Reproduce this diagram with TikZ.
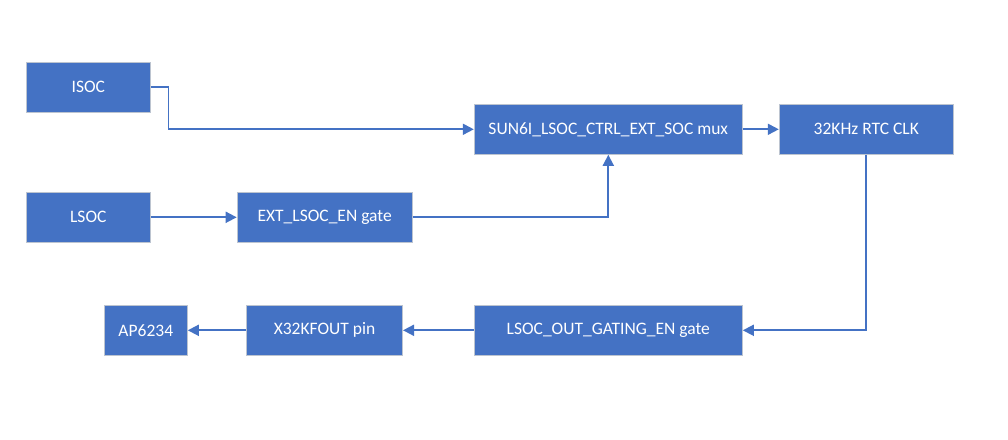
\documentclass[tikz,border=0pt]{standalone}
\usepackage{fontspec}
\setmainfont{Carlito}
\usetikzlibrary{arrows.meta}
\definecolor{boxblue}{HTML}{4472C4}
\definecolor{boxedge}{HTML}{BCC4D0}
\begin{document}
\begin{tikzpicture}[x=1pt,y=-1pt,
  blk/.style={draw=boxedge,line width=1pt,fill=boxblue,text=white,font=\fontsize{17.5}{20}\selectfont,inner sep=0pt},
  conn/.style={draw=boxblue,line width=1.8pt,-{Triangle[length=11pt,width=11pt]}}]
\useasboundingbox (0,0) rectangle (1008,439);
\fill[white] (0,0) rectangle (1008,439);
\node[blk,minimum width=124pt,minimum height=50pt] (isoc) at (88.3,87.3) {ISOC};
\node[blk,minimum width=124pt,minimum height=50pt] (lsoc) at (88.3,217.3) {LSOC};
\node[blk,minimum width=175pt,minimum height=50pt] (ext) at (324.7,217.3) {EXT\_LSOC\_EN gate};
\node[blk,minimum width=268pt,minimum height=50pt] (mux) at (608.3,129.3) {SUN6I\_LSOC\_CTRL\_EXT\_SOC mux};
\node[blk,minimum width=174pt,minimum height=50pt] (rtc) at (866.3,129.3) {32KHz RTC CLK};
\node[blk,minimum width=268pt,minimum height=50pt] (out) at (608.3,330.3) {LSOC\_OUT\_GATING\_EN gate};
\node[blk,minimum width=156pt,minimum height=50pt] (pin) at (324.5,330.3) {X32KFOUT pin};
\node[blk,minimum width=83pt,minimum height=50pt] (ap) at (145.8,330.3) {AP6234};
\draw[conn] (isoc.east) -- ++(17.7,0) |- (mux.west);
\draw[conn] (lsoc) -- (ext);
\draw[conn] (ext.east) -| (mux.south);
\draw[conn] (mux) -- (rtc);
\draw[conn] (rtc.south) |- (out.east);
\draw[conn] (out) -- (pin);
\draw[conn] (pin) -- (ap);
\end{tikzpicture}
\end{document}
